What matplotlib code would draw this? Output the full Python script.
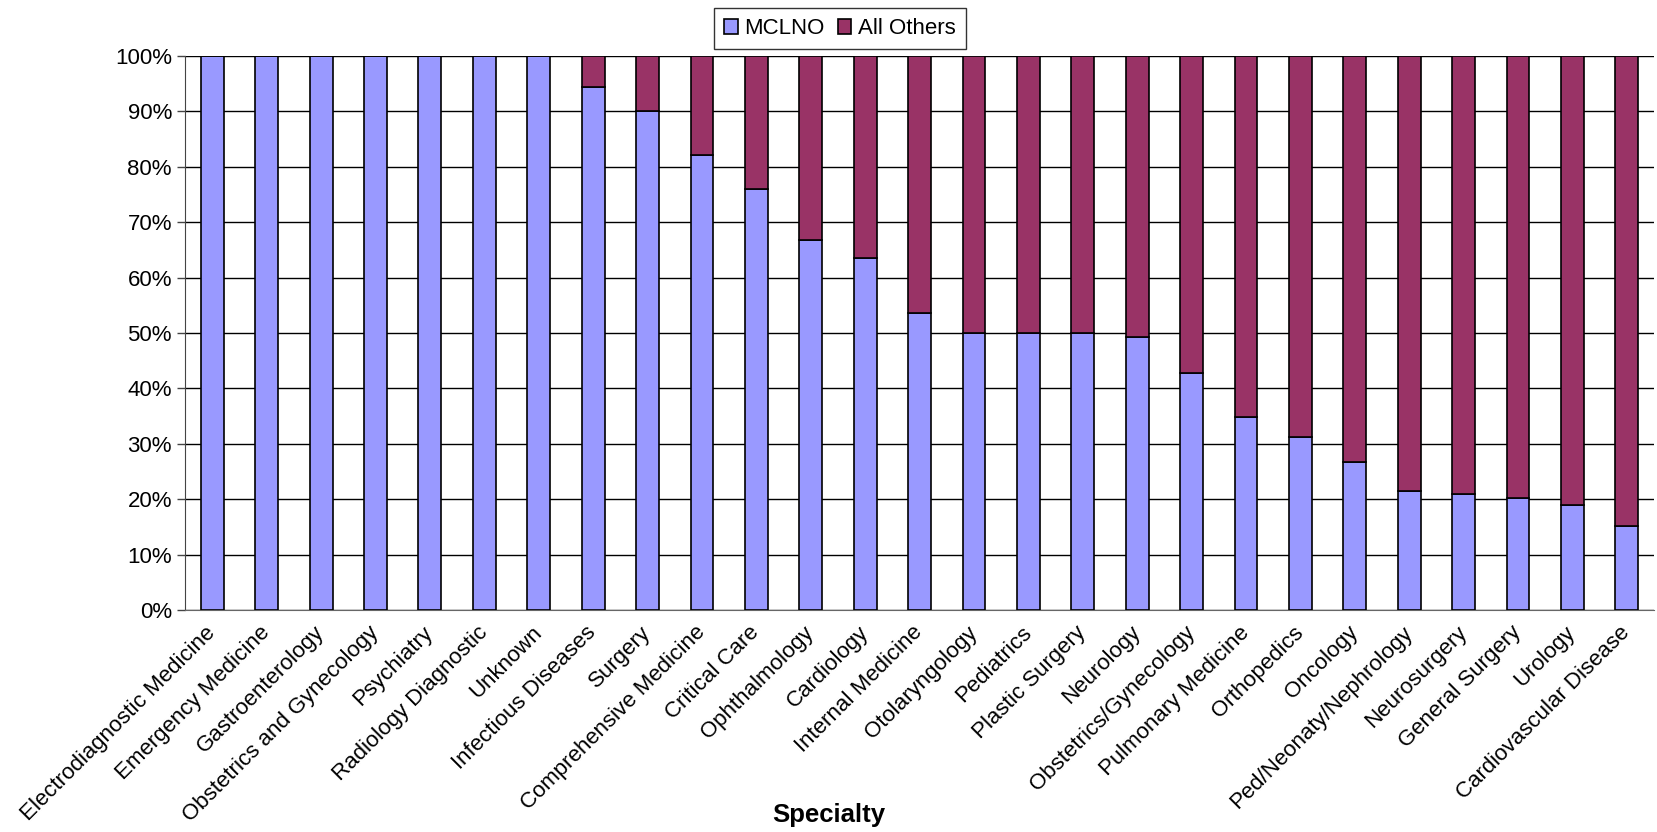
import matplotlib
matplotlib.use("Agg")
from matplotlib import pyplot as plt
from matplotlib.ticker import PercentFormatter

plt.rcParams['font.family'] = ['Liberation Sans', 'DejaVu Sans']

specialties = [
    "Electrodiagnostic Medicine", "Emergency Medicine", "Gastroenterology",
    "Obstetrics and Gynecology", "Psychiatry", "Radiology Diagnostic",
    "Unknown", "Infectious Diseases", "Surgery", "Comprehensive Medicine",
    "Critical Care", "Ophthalmology", "Cardiology", "Internal Medicine",
    "Otolaryngology", "Pediatrics", "Plastic Surgery", "Neurology",
    "Obstetrics/Gynecology", "Pulmonary Medicine", "Orthopedics", "Oncology",
    "Ped/Neonaty/Nephrology", "Neurosurgery", "General Surgery", "Urology",
    "Cardiovascular Disease",
]
# share of cases, percent
mclno = [100, 100, 100, 100, 100, 100, 100, 94.4, 90.0, 82.1, 76.0, 66.7,
         63.6, 53.7, 50.0, 50.0, 50.0, 49.2, 42.7, 34.9, 31.3, 26.7, 21.4,
         21.0, 20.2, 19.0, 15.1]
others = [100 - v for v in mclno]

fig = plt.figure(figsize=(16.57, 8.32), dpi=100)
ax = fig.add_axes([0.1117, 0.2668, 0.8865, 0.6659])

x = range(len(specialties))
ax.bar(x, mclno, width=0.42, color='#9999FF', edgecolor='black', linewidth=1.2,
       label='MCLNO', zorder=3)
ax.bar(x, others, width=0.42, bottom=mclno, color='#993366', edgecolor='black',
       linewidth=1.2, label='All Others', zorder=3)

ax.set_xlim(-0.5, len(specialties) - 0.5)
ax.set_ylim(0, 100)
ax.set_yticks(range(0, 101, 10))
ax.yaxis.set_major_formatter(PercentFormatter(decimals=0))
ax.yaxis.grid(True, color='black', linewidth=1, zorder=0)
ax.set_axisbelow(True)

for s in ['top', 'right']:
    ax.spines[s].set_visible(False)
ax.spines['left'].set_color('#444444')
ax.spines['bottom'].set_color('#666666')

ax.tick_params(axis='y', labelsize=16, length=6, width=1, color='#444444')
ax.tick_params(axis='x', length=0, pad=14)
ax.set_xticks(list(x))
ax.set_xticklabels(specialties, rotation=45, ha='right', va='center',
                   rotation_mode='anchor', fontsize=16)

fig.text(0.5, 0.006, 'Specialty', ha='center', va='bottom', fontsize=18.5,
         fontweight='bold')

leg = fig.legend(loc='upper center', bbox_to_anchor=(0.507, 0.998), ncol=2,
                 fontsize=16, frameon=True, fancybox=False, edgecolor='black',
                 handlelength=0.6, handleheight=0.6, handletextpad=0.3,
                 columnspacing=0.6, borderpad=0.45, borderaxespad=0.3)
leg.get_frame().set_linewidth(1)

fig.savefig('out.png', dpi=100)
